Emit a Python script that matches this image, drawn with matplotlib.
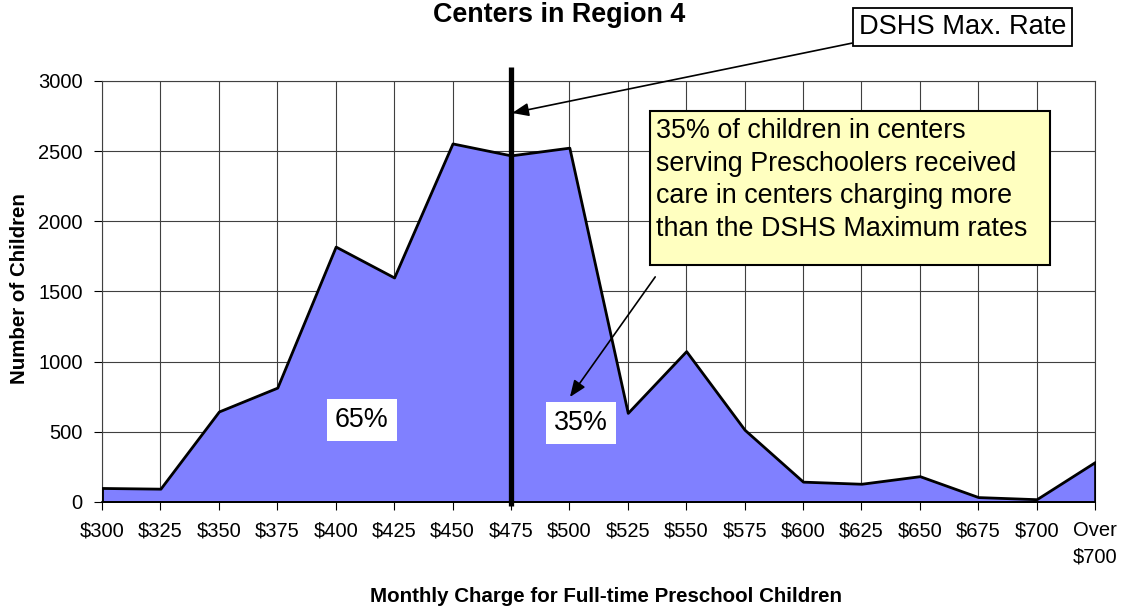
import numpy as np
import matplotlib
matplotlib.use("Agg")
import matplotlib.pyplot as plt
from matplotlib.patches import Rectangle

plt.rcParams['font.family'] = ['Liberation Sans', 'DejaVu Sans']

# Données (nombre d'enfants par tranche de tarif mensuel)
categories = ['$300', '$325', '$350', '$375', '$400', '$425', '$450', '$475',
              '$500', '$525', '$550', '$575', '$600', '$625', '$650', '$675',
              '$700', 'Over\n$700']
children = [100, 95, 645, 815, 1820, 1600, 2555, 2470,
            2525, 635, 1075, 515, 145, 130, 184, 35, 20, 285]
max_rate_category = '$475'
y_ticks = [0, 500, 1000, 1500, 2000, 2500, 3000]

title = "Centers in Region 4"
x_label = "Monthly Charge for Full-time Preschool Children"
y_label = "Number of Children"

fig = plt.figure(figsize=(11.25, 6.09), dpi=100)
ax = fig.add_axes([0.0907, 0.1757, 0.8827, 0.6913])

x = np.arange(len(categories))
ax.fill_between(x, children, 0, facecolor='#8080FF', edgecolor='black',
                linewidth=2, zorder=3)

ax.set_xlim(0, len(categories) - 1)
ax.set_ylim(0, 3000)
ax.set_xticks(x)
ax.set_xticklabels(categories, fontsize=14.5)
ax.set_yticks(y_ticks)
ax.set_yticklabels([str(v) for v in y_ticks], fontsize=14.5)
ax.tick_params(axis='both', direction='out', length=6, width=0.8,
               color='black', pad=8)
ax.get_xticklabels()[-1].set_linespacing(1.45)
ax.grid(True, color='#404040', linewidth=0.8, zorder=1)
ax.set_axisbelow(True)
for s in ax.spines.values():
    s.set_color('#404040')
    s.set_linewidth(0.8)
ax.spines['bottom'].set_color('black')
ax.spines['bottom'].set_linewidth(1.2)
ax.spines['bottom'].set_zorder(4)

ax.set_xlabel(x_label, fontsize=14.8, fontweight='bold')
ax.set_ylabel(y_label, fontsize=14.8, fontweight='bold')
ax.xaxis.set_label_coords(0.5076, -0.202)
ax.yaxis.set_label_coords(-0.0735, 0.506)

fig.text(0.497, 1 - 22 / 609, title, ha='center', va='baseline',
         fontsize=19.4, fontweight='bold')

# Ligne verticale du taux maximum DSHS
xr = categories.index(max_rate_category)
ax.plot([xr, xr], [-30, 3100], color='black', linewidth=3.8, zorder=5,
        clip_on=False, solid_capstyle='butt')

# Boîte "DSHS Max. Rate" + flèche
ax.text(14.73, 3385, "DSHS Max. Rate", fontsize=19.6, ha='center', va='center',
        bbox=dict(boxstyle='square,pad=0.22', facecolor='white',
                  edgecolor='black', linewidth=1.3), zorder=6, clip_on=False)
ax.annotate('', xy=(xr + 0.02, 2772), xytext=(12.84, 3270),
            arrowprops=dict(arrowstyle='-|>,head_length=1.0,head_width=0.4',
                            color='black', linewidth=1.2, shrinkA=0, shrinkB=0),
            annotation_clip=False, zorder=6)

# Boîte jaune explicative
ax.add_patch(Rectangle((9.38, 1689), 16.22 - 9.38, 2787 - 1689,
                       facecolor='#FFFFC0', edgecolor='black', linewidth=1.5,
                       zorder=6))
ax.text(9.48, 2735, "35% of children in centers\nserving Preschoolers received\n"
        "care in centers charging more\nthan the DSHS Maximum rates",
        fontsize=19.4, ha='left', va='top', linespacing=1.33, zorder=7)
ax.annotate('', xy=(8.01, 748), xytext=(9.47, 1604),
            arrowprops=dict(arrowstyle='-|>,head_length=1.0,head_width=0.4',
                            color='black', linewidth=1.2, shrinkA=0, shrinkB=0),
            zorder=6)

# Étiquettes de pourcentage
for px, py, lab in [(4.45, 584, "65%"), (8.2, 563, "35%")]:
    ax.text(px, py, lab, fontsize=19.4, ha='center', va='center', zorder=7,
            bbox=dict(boxstyle='square,pad=0.3', facecolor='white',
                      edgecolor='none'))

fig.savefig('out.png', dpi=100)
